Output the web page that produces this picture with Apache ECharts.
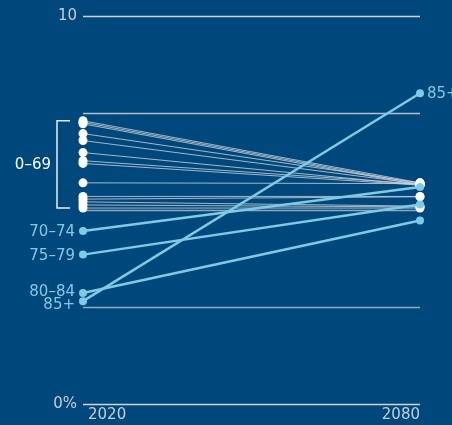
<!DOCTYPE html>
<html><head><meta charset="utf-8">
<script src="https://cdn.jsdelivr.net/npm/echarts@6/dist/echarts.min.js"></script>
<style>html,body{margin:0;padding:0;background:#00477b;}#c{width:452px;height:425px;}</style>
</head><body><div id="c"></div>
<script>
const years = [2020, 2080];
const youngAges = ['0–4','5–9','10–14','15–19','20–24','25–29','30–34','35–39','40–44','45–49','50–54','55–59','60–64','65–69'];
const young2020 = [5.05,5.13,5.21,5.28,5.35,5.70,6.20,6.27,6.48,6.79,6.97,7.22,7.26,7.30];
const young2080 = [5.05,5.08,5.10,5.34,5.35,5.68,5.64,5.67,5.64,5.67,5.70,5.64,5.67,5.70];
const oldAges = ['70–74','75–79','80–84','85+'];
const old2020 = [4.46,3.85,2.86,2.65];
const old2080 = [5.59,5.14,4.73,8.01];
const yTicks = {0:'0%', 10:'10'};
const groupLabel = '0–69';

const FONT = 'DejaVu Sans';
const BLUE = '#7ecbe6';
const chart = echarts.init(document.getElementById('c'), null, {renderer:'canvas'});
const series = [];
youngAges.forEach((a,i)=>{
  series.push({
    type:'line', name:a, data:[[years[0],young2020[i]],[years[1],young2080[i]]],
    symbol:'circle', symbolSize:9, z:2,
    itemStyle:{color:'#ffffff'},
    lineStyle:{color:'rgba(205,210,218,0.8)', width:1},
    animation:false, silent:true
  });
});
const labelOffsets2020 = {'80–84':[0,-1],'85+':[0,4]};
oldAges.forEach((a,i)=>{
  series.push({
    type:'line', name:a, data:[
      {value:[years[0],old2020[i]], label:{show:true, position:'left', distance:4, formatter:a, offset:labelOffsets2020[a]||[0,1]}},
      {value:[years[1],old2080[i]], label:{show:a==='85+', position:'right', distance:3, formatter:a, offset:[0,1]}}
    ],
    symbol:'circle', symbolSize:8, z:3,
    itemStyle:{color:BLUE},
    lineStyle:{color:BLUE, width:2.5},
    label:{color:BLUE, fontFamily:FONT, fontSize:15},
    animation:false, silent:true
  });
});
chart.setOption({
  backgroundColor:'#00477b',
  animation:false,
  grid:{left:83, right:32, top:16, bottom:21, containLabel:false},
  xAxis:{type:'value', min:2020, max:2080, interval:60,
    axisLine:{show:false}, axisTick:{show:false}, splitLine:{show:false},
    axisLabel:{color:'#c5cfda', fontFamily:FONT, fontSize:15, margin:4,
      alignMinLabel:'left', alignMaxLabel:'right',
      formatter:v=>v===2020?'{a|2020}':String(v),
      rich:{a:{padding:[0,0,0,5], color:'#c5cfda', fontFamily:FONT, fontSize:15}}}
  },
  yAxis:{type:'value', min:0, max:10, interval:2.5,
    axisLine:{show:false}, axisTick:{show:false},
    splitLine:{show:true, lineStyle:{color:['#cdd5de','#93a7bb','#93a7bb','#b3c0cd','#cdd5de'], width:1.3}},
    axisLabel:{color:'#c5cfda', fontFamily:FONT, fontSize:15, margin:6,
      formatter:v=>yTicks[v]!==undefined?yTicks[v]:''}
  },
  series:series
});
// bracket for the 0–69 group, placed from data
const topPx = chart.convertToPixel({gridIndex:0},[years[0], Math.max(...young2020)]);
const botPx = chart.convertToPixel({gridIndex:0},[years[0], Math.min(...young2020)]);
const bx = topPx[0]-26, tx = topPx[0]-13;
chart.setOption({graphic:[
  {type:'polyline', shape:{points:[[tx,topPx[1]],[bx,topPx[1]],[bx,botPx[1]],[tx,botPx[1]]]},
   style:{stroke:'#e8edf2', lineWidth:1.5, fill:null}, silent:true},
  {type:'text', x:bx-6, y:(topPx[1]+botPx[1])/2+1,
   style:{text:groupLabel, fill:'#ffffff', font:'15px "DejaVu Sans"', textAlign:'right', textVerticalAlign:'middle'}, silent:true}
]});
</script></body></html>
